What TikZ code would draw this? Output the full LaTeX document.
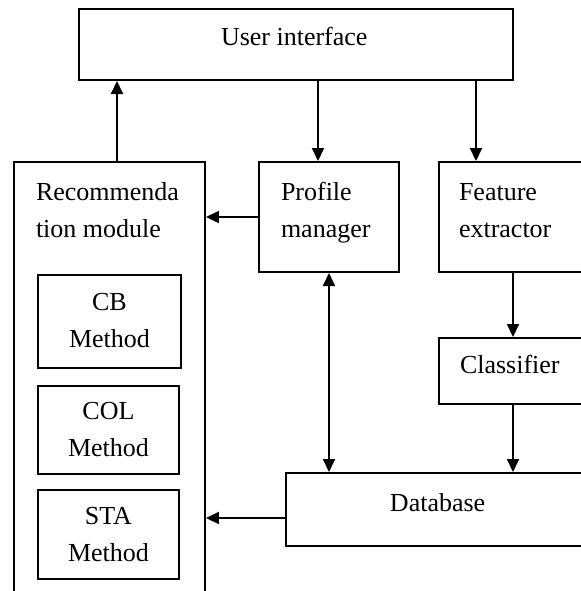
\documentclass[tikz,border=0pt]{standalone}
\usepackage{fontspec}
\setmainfont{Liberation Serif}
\usetikzlibrary{arrows.meta}
\begin{document}
\begin{tikzpicture}[x=.5pt, y=-.5pt, line width=1pt, >={Triangle[length=6.5pt,width=6pt]},
  font=\fontsize{13}{18.5}\selectfont,
  box/.style={draw, rectangle, inner sep=0pt},
  txt/.style={inner sep=0pt, align=left, anchor=base west}]
 \useasboundingbox (0,0) rectangle (581,591);
 \clip (0,0) rectangle (581,591);
 % boxes
 \node[box, minimum width=217pt, minimum height=35.5pt] (ui) at (296,44.5) {};
 \node[box, minimum width=95.5pt, minimum height=219pt] (rec) at (109.5,381) {};
 \node[box, minimum width=70pt, minimum height=55pt] (pm) at (329,217) {};
 \node[box, minimum width=74pt, minimum height=55pt] (fe) at (513,217) {};
 \node[box, minimum width=74pt, minimum height=33pt] (cl) at (513,371) {};
 \node[box, minimum width=151pt, minimum height=36.5pt] (db) at (437,509.5) {};
 \node[box, align=center, minimum width=71.5pt, minimum height=46.5pt] (cb) at (109.5,321) {CB\\Method};
 \node[box, align=center, minimum width=70.5pt, minimum height=44pt] (col) at (108.5,430) {COL\\Method};
 \node[box, align=center, minimum width=70.5pt, minimum height=44.5pt] (sta) at (108.5,534.5) {STA\\Method};
 % texts (base = last line)
 \node[txt] (uitxt) at (220,45) {User interface};
 \node[txt] (rectxt) at (35,237) {Recommenda\\tion module};
 \node[txt] (pmtxt) at (280,237) {Profile\\manager};
 \node[txt] (fetxt) at (458,237) {Feature\\extractor};
 \node[txt] (cltxt) at (459,373) {Classifier};
 \node[txt] (dbtxt) at (389,511) {Database};
 % connectors
 \draw[->] ([xshift=3.75pt]rec.north) -- ([xshift=-89.5pt]ui.south);
 \draw[->] ([xshift=11pt]ui.south) -- ([xshift=-5.5pt]pm.north);
 \draw[->] ([xshift=90pt]ui.south) -- ([xshift=-18.5pt]fe.north);
 \draw[->] (pm.west) -- (pm.west -| rec.east);
 \draw[->] (fe.south) -- (cl.north);
 \draw[->] (cl.south) -- (cl.south |- db.north);
 \draw[<->] (pm.south) -- (pm.south |- db.north);
 \draw[->] ([yshift=-4.25pt]db.west) -- ([yshift=-4.25pt]db.west -| rec.east);
\end{tikzpicture}
\end{document}
